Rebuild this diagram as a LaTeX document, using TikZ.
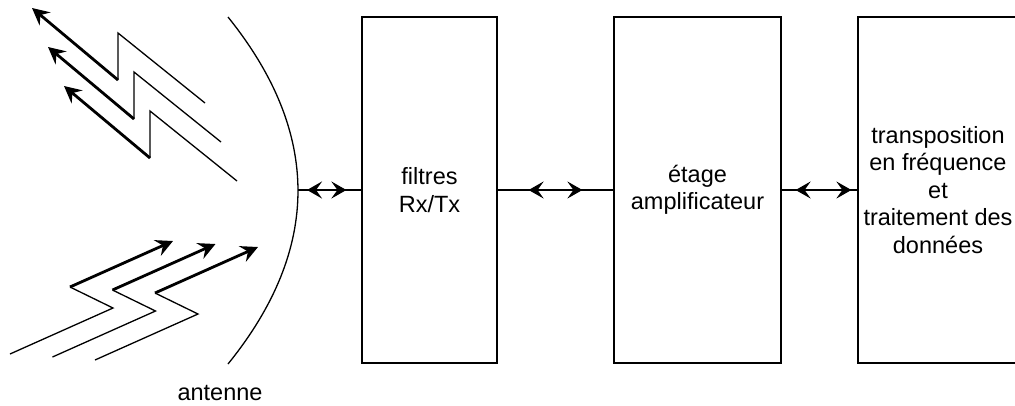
\documentclass[tikz,border=0pt]{standalone}
\usepackage{fontspec}
\setmainfont{Liberation Sans}
\usetikzlibrary{arrows.meta,calc}
\tikzstyle{texte}=[font=\fontsize{23.5}{27.5}\selectfont, align=center, inner sep=0pt]
\tikzstyle{bloc}=[texte, draw, line width=1.2pt, minimum height=346pt]
\tikzstyle{eclair}=[line width=1.3pt, line join=miter]
\tikzstyle{eclair>}=[line width=2.8pt, -{Stealth[length=17pt,width=17pt,inset=6pt]}]
\tikzstyle{liaison}=[line width=1.6pt]
\tikzstyle{double>}=[line width=2.6pt, {Stealth[length=15pt,width=17pt,inset=6pt]}-{Stealth[length=15pt,width=17pt,inset=6pt]}]

\begin{document}
\begin{tikzpicture}[x=1pt,y=-1pt]
\useasboundingbox (0,0) rectangle (1015,405);
\node[bloc, minimum width=135pt] (filtres) at (429.5,190) {filtres\\Rx/Tx};
\node[bloc, minimum width=167pt] (ampli) at (697.5,190) {étage\\amplificateur};
\node[bloc, minimum width=160pt] (traitement) at (938,190) {transposition\\en fréquence\\et\\traitement des\\données};
\coordinate (anthaut) at (228,17);
\coordinate (antbas) at (228,364);
\coordinate (antenne) at (298,190);
\draw[eclair] (anthaut) .. controls (321.3,133) and (321.3,248.7) .. (antbas);
\node[texte] (lblantenne) at (220,393) {antenne};
\foreach \n in {0,1,2} {
	\coordinate (c\n) at (118+16*\n, 80+39*\n);
	\draw[eclair] ($(c\n)+(87,23)$) -- ($(c\n)+(0,-47)$) -- (c\n);
	\draw[eclair>] (c\n) -- ++(-86,-72);
}
\foreach \n in {0,1,2} {
	\coordinate (g\n) at (70+42.5*\n, 287+3*\n);
	\draw[eclair] ($(g\n)+(-60,67)$) -- ($(g\n)+(43,21)$) -- (g\n);
	\draw[eclair>] (g\n) -- ++(103,-46);
}
\draw[liaison] (antenne) -- (filtres.west);
\draw[liaison] (filtres.east) -- (ampli.west);
\draw[liaison] (ampli.east) -- (traitement.west);
\draw[double>, shorten <=9pt, shorten >=15pt] (antenne) -- (filtres.west);
\draw[double>, shorten <=31pt, shorten >=31pt] (filtres.east) -- (ampli.west);
\draw[double>, shorten <=14pt, shorten >=6pt] (ampli.east) -- (traitement.west);
\end{tikzpicture}
\end{document}
